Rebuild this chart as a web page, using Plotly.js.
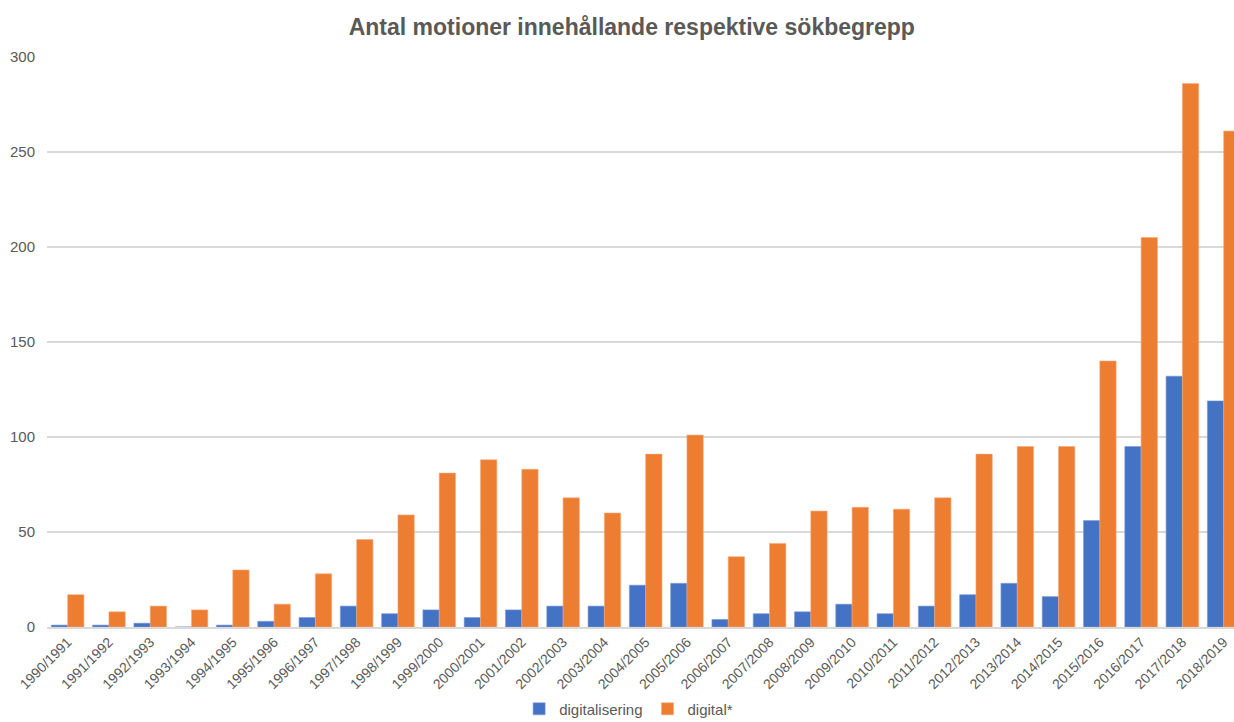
<!DOCTYPE html>
<html>
<head>
<meta charset="utf-8">
<script src="https://cdn.plot.ly/plotly-3.0.1.min.js"></script>
<style>html,body{margin:0;padding:0;background:#fff;overflow:hidden;}#chart{width:1234px;height:722px;}</style>
</head>
<body>
<div id="chart"></div>
<script>
const categories = ["1990/1991","1991/1992","1992/1993","1993/1994","1994/1995","1995/1996","1996/1997","1997/1998","1998/1999","1999/2000","2000/2001","2001/2002","2002/2003","2003/2004","2004/2005","2005/2006","2006/2007","2007/2008","2008/2009","2009/2010","2010/2011","2011/2012","2012/2013","2013/2014","2014/2015","2015/2016","2016/2017","2017/2018","2018/2019"];
const digitalisering = [1,1,2,0,1,3,5,11,7,9,5,9,11,11,22,23,4,7,8,12,7,11,17,23,16,56,95,132,119];
const digital = [17,8,11,9,30,12,28,46,59,81,88,83,68,60,91,101,37,44,61,63,62,68,91,95,95,140,205,286,261];
const yTicks = [0,50,100,150,200,250,300];

const fontFam = '"Liberation Sans", Arial, Helvetica, sans-serif';
const traces = [
  {type:'bar', name:'digitalisering', x:categories, y:digitalisering,
   marker:{color:'#4472C4', line:{color:'#7a9bd6', width:0.6}}},
  {type:'bar', name:'digital*', x:categories, y:digital,
   marker:{color:'#ED7D31', line:{color:'#f4a97c', width:0.6}}}
];
const layout = {
  width:1234, height:722,
  margin:{l:47, r:0, t:57, b:95, autoexpand:false},
  paper_bgcolor:'#fff', plot_bgcolor:'#fff',
  title:{text:'Antal motioner innehållande respektive sökbegrepp', x:0.512, xanchor:'center', y:0.962, yanchor:'middle',
         font:{family:fontFam, size:23, color:'#595959', weight:'bold'}},
  barmode:'group', bargap:0.21, bargroupgap:0,
  xaxis:{type:'category', range:[-0.5, 28.25], tickangle:-45, tickfont:{family:fontFam, size:14, color:'#595959'},
         showgrid:false, showline:true, linecolor:'#d9d9d9', linewidth:1.5, ticks:'', automargin:false},
  yaxis:{range:[0,300], tickvals:yTicks, ticktext:yTicks.map(String), tickfont:{family:fontFam, size:15, color:'#595959'},
         showgrid:true, gridcolor:'#d9d9d9', gridwidth:1.5, zeroline:false, showline:false, ticks:'', ticklabelstandoff:11, automargin:false, fixedrange:true},
  showlegend:true,
  legend:{orientation:'h', x:0.49, xanchor:'center', y:-0.144, yanchor:'middle',
          font:{family:fontFam, size:15, color:'#595959'}, itemwidth:30, traceorder:'normal'}
};
Plotly.newPlot('chart', traces, layout, {displayModeBar:false, staticPlot:true});
</script>
</body>
</html>
